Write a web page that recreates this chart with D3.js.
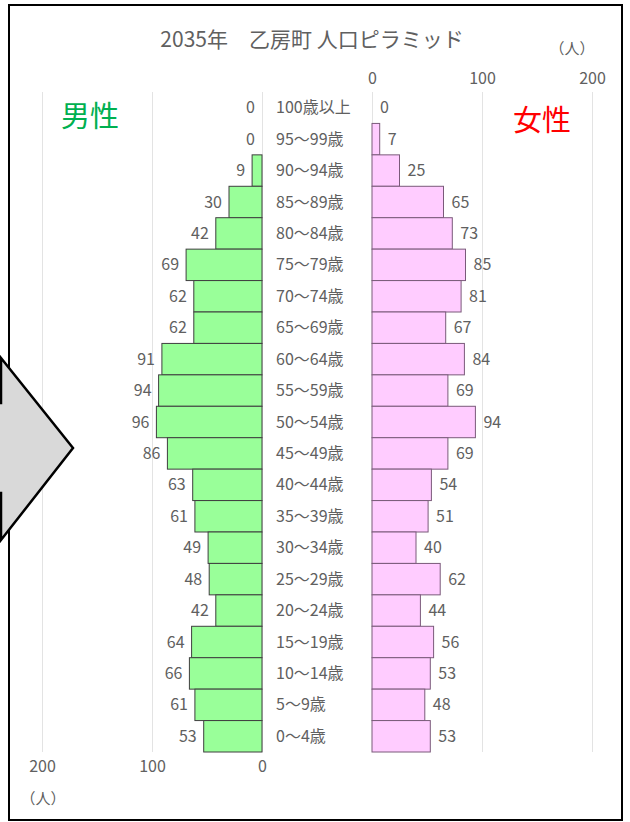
<!DOCTYPE html>
<html>
<head>
<meta charset="utf-8">
<script src="https://cdn.jsdelivr.net/npm/d3@7"></script>
<style>
  body { margin: 0; background: #fff; }
  svg text { font-family: "Noto Sans CJK JP", "Noto Sans", sans-serif; }
</style>
</head>
<body>
<svg width="630" height="822"></svg>
<script>
// DATA

var ages = ["100歳以上", "95～99歳", "90～94歳", "85～89歳", "80～84歳", "75～79歳",
            "70～74歳", "65～69歳", "60～64歳", "55～59歳", "50～54歳", "45～49歳",
            "40～44歳", "35～39歳", "30～34歳", "25～29歳", "20～24歳", "15～19歳",
            "10～14歳", "5～9歳", "0～4歳"];
var male   = [0, 0, 9, 30, 42, 69, 62, 62, 91, 94, 96, 86, 63, 61, 49, 48, 42, 64, 66, 61, 53];
var female = [0, 7, 25, 65, 73, 85, 81, 67, 84, 69, 94, 69, 54, 51, 40, 62, 44, 56, 53, 48, 53];
var ticks = [0, 100, 200];
var title = "2035年　乙房町 人口ピラミッド";

// SETUP

var svg = d3.select("svg"),
    top_ = 92, bottom = 752,
    grey = "#606060";

var y = d3.scaleBand().domain(ages).range([top_, bottom]).padding(0);
var xm = d3.scaleLinear().domain([0, 200]).range([262, 42]);
var xf = d3.scaleLinear().domain([0, 200]).range([372, 592]);

// frame
svg.append("rect")
    .attr("x", 9).attr("y", 5)
    .attr("width", 613).attr("height", 815)
    .attr("fill", "#fff")
    .attr("stroke", "#000").attr("stroke-width", 2);

// axes with gridlines
function styleAxis(g) {
    g.select(".domain").remove();
    g.selectAll(".tick line").attr("stroke", "#e3e3e3");
    g.selectAll(".tick text").attr("fill", grey).style("font-size", "16px");
}

svg.append("g")
    .attr("transform", "translate(0," + top_ + ")")
    .call(d3.axisTop(xf).tickValues(ticks).tickSize(-(bottom - top_)).tickPadding(8))
    .call(styleAxis);

svg.append("g")
    .attr("transform", "translate(0," + bottom + ")")
    .call(d3.axisBottom(xm).tickValues(ticks).tickSize(-(bottom - top_)).tickPadding(9))
    .call(styleAxis);

// BARS

svg.selectAll(".bar-m")
    .data(male)
  .enter().append("rect")
    .attr("class", "bar-m")
    .attr("x", function (d) { return xm(d); })
    .attr("y", function (d, i) { return y(ages[i]); })
    .attr("width", function (d) { return xm(0) - xm(d); })
    .attr("height", y.bandwidth())
    .attr("fill", "#99ff99")
    .attr("stroke", function (d) { return d > 0 ? "#3f3f3f" : "none"; })
    .attr("stroke-width", 1);

svg.selectAll(".bar-f")
    .data(female)
  .enter().append("rect")
    .attr("class", "bar-f")
    .attr("x", xf(0))
    .attr("y", function (d, i) { return y(ages[i]); })
    .attr("width", function (d) { return xf(d) - xf(0); })
    .attr("height", y.bandwidth())
    .attr("fill", "#ffccff")
    .attr("stroke", function (d) { return d > 0 ? "#7a5a7a" : "none"; })
    .attr("stroke-width", 1);

// value labels
svg.selectAll(".lab-m")
    .data(male)
  .enter().append("text")
    .attr("x", function (d) { return xm(d) - 7; })
    .attr("y", function (d, i) { return y(ages[i]) + y.bandwidth() / 2; })
    .attr("dy", "0.35em")
    .attr("text-anchor", "end")
    .attr("fill", grey)
    .style("font-size", "16px")
    .text(function (d) { return d; });

svg.selectAll(".lab-f")
    .data(female)
  .enter().append("text")
    .attr("x", function (d) { return xf(d) + 8; })
    .attr("y", function (d, i) { return y(ages[i]) + y.bandwidth() / 2; })
    .attr("dy", "0.35em")
    .attr("fill", grey)
    .style("font-size", "16px")
    .text(function (d) { return d; });

// age labels
svg.selectAll(".age")
    .data(ages)
  .enter().append("text")
    .attr("x", 276)
    .attr("y", function (d) { return y(d) + y.bandwidth() / 2; })
    .attr("dy", "0.35em")
    .attr("fill", grey)
    .style("font-size", "16px")
    .text(function (d) { return d; });

// TEXTS

svg.append("text")
    .attr("x", 312).attr("y", 47)
    .attr("text-anchor", "middle")
    .attr("fill", grey)
    .style("font-size", "21px")
    .text(title);

svg.append("text")
    .attr("x", 572).attr("y", 54)
    .attr("text-anchor", "middle")
    .attr("fill", grey)
    .style("font-size", "15px")
    .text("（人）");

svg.append("text")
    .attr("x", 43).attr("y", 804)
    .attr("text-anchor", "middle")
    .attr("fill", grey)
    .style("font-size", "15px")
    .text("（人）");

svg.append("text")
    .attr("x", 90).attr("y", 127)
    .attr("text-anchor", "middle")
    .attr("fill", "#00b050")
    .style("font-size", "29px")
    .text("男性");

svg.append("text")
    .attr("x", 542).attr("y", 131)
    .attr("text-anchor", "middle")
    .attr("fill", "#ff0000")
    .style("font-size", "29px")
    .text("女性");

// arrow on the left
svg.append("polygon")
    .attr("points", "-20,403 1,403 1,358 73,448 1,540 1,493 -20,493")
    .attr("fill", "#d9d9d9")
    .attr("stroke", "#000")
    .attr("stroke-width", 2.5)
    .attr("stroke-linejoin", "miter");
</script>
</body>
</html>
